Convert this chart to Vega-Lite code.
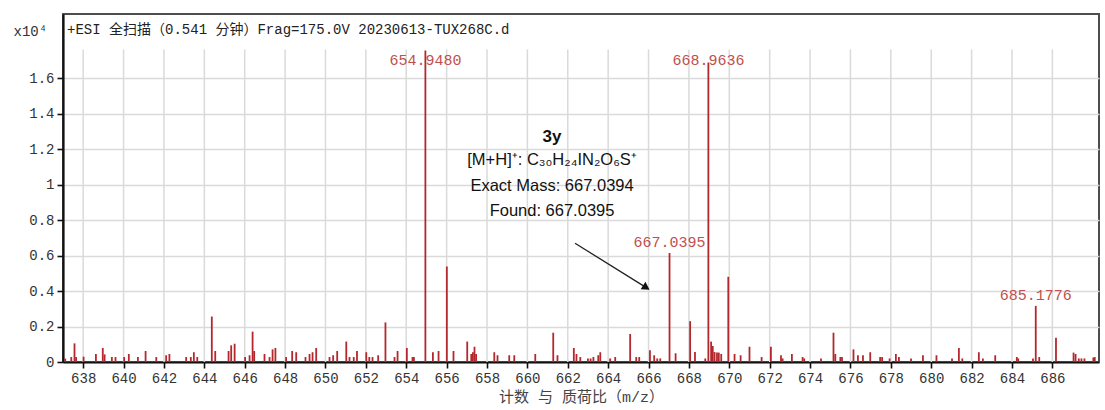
{
  "$schema": "https://vega.github.io/schema/vega-lite/v6.json",
  "width": 1036,
  "height": 348,
  "autosize": {"type": "none"},
  "padding": {"left": 63, "top": 14, "right": 6, "bottom": 48},
  "background": "white",
  "config": {"view": {"stroke": "#4d4d4d", "strokeWidth": 2}},
  "datasets": {
    "peaks": [
      {"mz": 637.11, "intensity": 0.019}, {"mz": 637.41, "intensity": 0.028}, {"mz": 637.57, "intensity": 0.105}, {"mz": 637.65, "intensity": 0.028},
      {"mz": 638.02, "intensity": 0.03}, {"mz": 638.63, "intensity": 0.045}, {"mz": 638.97, "intensity": 0.079}, {"mz": 639.06, "intensity": 0.043},
      {"mz": 639.42, "intensity": 0.028}, {"mz": 639.6, "intensity": 0.028}, {"mz": 640.03, "intensity": 0.028}, {"mz": 640.26, "intensity": 0.045},
      {"mz": 640.71, "intensity": 0.028}, {"mz": 641.09, "intensity": 0.062}, {"mz": 641.62, "intensity": 0.028}, {"mz": 642.11, "intensity": 0.038},
      {"mz": 642.27, "intensity": 0.045}, {"mz": 643.1, "intensity": 0.028}, {"mz": 643.33, "intensity": 0.028}, {"mz": 643.48, "intensity": 0.055},
      {"mz": 643.65, "intensity": 0.028}, {"mz": 644.37, "intensity": 0.256}, {"mz": 644.54, "intensity": 0.062}, {"mz": 645.2, "intensity": 0.062},
      {"mz": 645.33, "intensity": 0.094}, {"mz": 645.5, "intensity": 0.103}, {"mz": 646.02, "intensity": 0.028}, {"mz": 646.24, "intensity": 0.038},
      {"mz": 646.39, "intensity": 0.171}, {"mz": 646.47, "intensity": 0.062}, {"mz": 646.98, "intensity": 0.045}, {"mz": 647.23, "intensity": 0.028},
      {"mz": 647.38, "intensity": 0.071}, {"mz": 647.52, "intensity": 0.079}, {"mz": 648.05, "intensity": 0.028}, {"mz": 648.35, "intensity": 0.062},
      {"mz": 648.55, "intensity": 0.055}, {"mz": 649.01, "intensity": 0.028}, {"mz": 649.21, "intensity": 0.045}, {"mz": 649.36, "intensity": 0.055},
      {"mz": 649.54, "intensity": 0.079}, {"mz": 650.2, "intensity": 0.028}, {"mz": 650.38, "intensity": 0.038}, {"mz": 650.58, "intensity": 0.062},
      {"mz": 651.03, "intensity": 0.115}, {"mz": 651.19, "intensity": 0.028}, {"mz": 651.4, "intensity": 0.028}, {"mz": 651.56, "intensity": 0.062},
      {"mz": 652.02, "intensity": 0.055}, {"mz": 652.17, "intensity": 0.028}, {"mz": 652.33, "intensity": 0.028}, {"mz": 652.61, "intensity": 0.038},
      {"mz": 652.97, "intensity": 0.223}, {"mz": 653.42, "intensity": 0.028}, {"mz": 653.57, "intensity": 0.062}, {"mz": 654.03, "intensity": 0.079},
      {"mz": 654.31, "intensity": 0.028}, {"mz": 654.38, "intensity": 0.028}, {"mz": 654.948, "intensity": 1.755, "labeled": true, "tall": true},
      {"mz": 655.32, "intensity": 0.055}, {"mz": 655.6, "intensity": 0.062}, {"mz": 656.01, "intensity": 0.538}, {"mz": 656.34, "intensity": 0.062},
      {"mz": 657.02, "intensity": 0.115}, {"mz": 657.22, "intensity": 0.045}, {"mz": 657.3, "intensity": 0.055}, {"mz": 657.38, "intensity": 0.086},
      {"mz": 657.46, "intensity": 0.045}, {"mz": 658.36, "intensity": 0.055}, {"mz": 658.52, "intensity": 0.038}, {"mz": 659.1, "intensity": 0.038},
      {"mz": 659.35, "intensity": 0.038}, {"mz": 660.39, "intensity": 0.045}, {"mz": 661.28, "intensity": 0.165}, {"mz": 661.49, "intensity": 0.038},
      {"mz": 662.3, "intensity": 0.079}, {"mz": 662.43, "intensity": 0.045}, {"mz": 662.62, "intensity": 0.028}, {"mz": 663.0, "intensity": 0.02},
      {"mz": 663.13, "intensity": 0.02}, {"mz": 663.27, "intensity": 0.028}, {"mz": 663.51, "intensity": 0.038}, {"mz": 663.61, "intensity": 0.055},
      {"mz": 664.1, "intensity": 0.02}, {"mz": 664.35, "intensity": 0.028}, {"mz": 665.09, "intensity": 0.158}, {"mz": 665.39, "intensity": 0.028},
      {"mz": 665.54, "intensity": 0.028}, {"mz": 666.07, "intensity": 0.066}, {"mz": 666.28, "intensity": 0.038}, {"mz": 666.43, "intensity": 0.02},
      {"mz": 666.58, "intensity": 0.02}, {"mz": 667.0395, "intensity": 0.614, "labeled": true}, {"mz": 667.34, "intensity": 0.049},
      {"mz": 668.06, "intensity": 0.23}, {"mz": 668.3, "intensity": 0.056}, {"mz": 668.81, "intensity": 0.02},
      {"mz": 668.9636, "intensity": 1.687, "labeled": true, "tall": true},
      {"mz": 669.1, "intensity": 0.115}, {"mz": 669.18, "intensity": 0.09}, {"mz": 669.27, "intensity": 0.056}, {"mz": 669.39, "intensity": 0.053},
      {"mz": 669.48, "intensity": 0.053}, {"mz": 669.6, "intensity": 0.045}, {"mz": 669.95, "intensity": 0.48}, {"mz": 670.26, "intensity": 0.045},
      {"mz": 670.56, "intensity": 0.038}, {"mz": 671.0, "intensity": 0.086}, {"mz": 671.6, "intensity": 0.028}, {"mz": 672.06, "intensity": 0.086},
      {"mz": 672.56, "intensity": 0.038}, {"mz": 672.64, "intensity": 0.02}, {"mz": 673.1, "intensity": 0.045}, {"mz": 673.63, "intensity": 0.028},
      {"mz": 673.71, "intensity": 0.02}, {"mz": 674.54, "intensity": 0.02}, {"mz": 675.16, "intensity": 0.165}, {"mz": 675.25, "intensity": 0.045},
      {"mz": 675.5, "intensity": 0.028}, {"mz": 675.58, "intensity": 0.028}, {"mz": 676.15, "intensity": 0.071}, {"mz": 676.37, "intensity": 0.038},
      {"mz": 676.62, "intensity": 0.038}, {"mz": 676.98, "intensity": 0.055}, {"mz": 677.47, "intensity": 0.028}, {"mz": 677.57, "intensity": 0.028},
      {"mz": 677.94, "intensity": 0.02}, {"mz": 678.25, "intensity": 0.045}, {"mz": 678.4, "intensity": 0.028}, {"mz": 679.0, "intensity": 0.02},
      {"mz": 679.59, "intensity": 0.038}, {"mz": 680.26, "intensity": 0.038}, {"mz": 681.03, "intensity": 0.02}, {"mz": 681.37, "intensity": 0.079},
      {"mz": 681.54, "intensity": 0.02}, {"mz": 682.36, "intensity": 0.055}, {"mz": 682.56, "intensity": 0.02}, {"mz": 683.17, "intensity": 0.038},
      {"mz": 684.24, "intensity": 0.028}, {"mz": 684.31, "intensity": 0.02}, {"mz": 685.04, "intensity": 0.02},
      {"mz": 685.1776, "intensity": 0.316, "labeled": true}, {"mz": 685.35, "intensity": 0.028}, {"mz": 686.18, "intensity": 0.137},
      {"mz": 687.05, "intensity": 0.053}, {"mz": 687.15, "intensity": 0.045}, {"mz": 687.31, "intensity": 0.02}, {"mz": 687.44, "intensity": 0.02},
      {"mz": 687.59, "intensity": 0.02}, {"mz": 688.03, "intensity": 0.025}, {"mz": 688.1, "intensity": 0.028}
    ],
    "gridX": [
      {"g": 638}, {"g": 640}, {"g": 642}, {"g": 644}, {"g": 646}, {"g": 648}, {"g": 650}, {"g": 652}, {"g": 654},
      {"g": 656}, {"g": 658}, {"g": 660}, {"g": 662}, {"g": 664}, {"g": 666}, {"g": 668}, {"g": 670}, {"g": 672},
      {"g": 674}, {"g": 676}, {"g": 678}, {"g": 680}, {"g": 682}, {"g": 684}, {"g": 686}
    ]
  },
  "layer": [
    {
      "data": {"name": "gridX"},
      "mark": {"type": "rule", "color": "#dadada", "strokeWidth": 1.5},
      "encoding": {
        "x": {"field": "g", "type": "quantitative"},
        "y": {"datum": 0, "type": "quantitative"},
        "y2": {"datum": 1.76}
      }
    },
    {
      "data": {"name": "peaks"},
      "transform": [{"filter": "datum.labeled && !datum.tall"}],
      "mark": {"type": "text", "font": "Liberation Mono", "fontSize": 15, "color": "#c0504d", "baseline": "middle", "dy": -11},
      "encoding": {
        "x": {"field": "mz", "type": "quantitative"},
        "y": {"field": "intensity", "type": "quantitative"},
        "text": {"field": "mz", "type": "quantitative", "format": ".4f"}
      }
    },
    {
      "data": {"name": "peaks"},
      "transform": [{"filter": "datum.tall"}],
      "mark": {"type": "text", "font": "Liberation Mono", "fontSize": 15, "color": "#c0504d", "baseline": "middle"},
      "encoding": {
        "x": {"field": "mz", "type": "quantitative"},
        "y": {"datum": 1.701, "type": "quantitative"},
        "text": {"field": "mz", "type": "quantitative", "format": ".4f"}
      }
    },
    {
      "data": {"name": "peaks"},
      "mark": {"type": "rule", "color": "#b3282d", "strokeWidth": 1.8},
      "encoding": {
        "x": {
          "field": "mz", "type": "quantitative",
          "scale": {"domain": [637.0, 688.31], "nice": false, "zero": false},
          "axis": {
            "values": [638, 640, 642, 644, 646, 648, 650, 652, 654, 656, 658, 660, 662, 664, 666, 668, 670, 672, 674, 676, 678, 680, 682, 684, 686],
            "format": "d", "grid": false,
            "domainColor": "#111111", "domainWidth": 2.2,
            "tickColor": "#111111", "tickWidth": 1.6, "tickSize": 6,
            "labelFont": "Liberation Mono", "labelFontSize": 14, "labelColor": "#333333", "labelPadding": 3,
            "labelFlush": false, "labelOverlap": false,
            "title": "计数 与 质荷比（m/z）",
            "titleFont": "Liberation Mono, Noto Sans CJK SC", "titleFontSize": 15, "titleFontWeight": "normal",
            "titleColor": "#444444", "titlePadding": 4
          }
        },
        "y": {
          "field": "intensity", "type": "quantitative",
          "scale": {"domain": [0, 1.9606], "nice": false, "zero": true},
          "axis": {
            "values": [0, 0.2, 0.4, 0.6, 0.8, 1, 1.2, 1.4, 1.6],
            "format": "~g", "grid": true, "gridColor": "#dadada", "gridWidth": 1.5,
            "domainColor": "#111111", "domainWidth": 2.2,
            "tickColor": "#111111", "tickWidth": 1.6, "tickSize": 6,
            "labelFont": "Liberation Mono", "labelFontSize": 14, "labelColor": "#333333", "labelPadding": 3,
            "labelFlush": false, "labelOverlap": false,
            "title": "x10⁴", "titleAngle": 0, "titleAlign": "left", "titleBaseline": "middle",
            "titleX": -50, "titleY": 17,
            "titleFont": "Liberation Mono", "titleFontSize": 14, "titleFontWeight": "normal", "titleColor": "#333333"
          }
        },
        "y2": {"datum": 0}
      }
    },
    {
      "data": {"values": [{}]},
      "mark": {"type": "text", "font": "Liberation Mono, Noto Sans CJK SC", "fontSize": 14, "color": "#222222", "align": "left", "baseline": "middle"},
      "encoding": {
        "x": {"datum": 637.2, "type": "quantitative"},
        "y": {"datum": 1.87, "type": "quantitative"},
        "text": {"value": "+ESI 全扫描（0.541 分钟）Frag=175.0V 20230613-TUX268C.d"}
      }
    },
    {
      "data": {"values": [{}]},
      "mark": {"type": "text", "font": "Liberation Sans", "fontSize": 17, "fontWeight": "bold", "color": "#111111", "align": "center", "baseline": "middle"},
      "encoding": {
        "x": {"datum": 661.22, "type": "quantitative"},
        "y": {"datum": 1.268, "type": "quantitative"},
        "text": {"value": "3y"}
      }
    },
    {
      "data": {"values": [{}]},
      "mark": {"type": "text", "font": "Liberation Sans", "fontSize": 16.5, "color": "#111111", "align": "center", "baseline": "middle"},
      "encoding": {
        "x": {"datum": 661.22, "type": "quantitative"},
        "y": {"datum": 1.138, "type": "quantitative"},
        "text": {"value": "[M+H]⁺: C₃₀H₂₄IN₂O₆S⁺"}
      }
    },
    {
      "data": {"values": [{}]},
      "mark": {"type": "text", "font": "Liberation Sans", "fontSize": 16.5, "color": "#111111", "align": "center", "baseline": "middle"},
      "encoding": {
        "x": {"datum": 661.22, "type": "quantitative"},
        "y": {"datum": 0.992, "type": "quantitative"},
        "text": {"value": "Exact Mass: 667.0394"}
      }
    },
    {
      "data": {"values": [{}]},
      "mark": {"type": "text", "font": "Liberation Sans", "fontSize": 16.5, "color": "#111111", "align": "center", "baseline": "middle"},
      "encoding": {
        "x": {"datum": 661.22, "type": "quantitative"},
        "y": {"datum": 0.851, "type": "quantitative"},
        "text": {"value": "Found: 667.0395"}
      }
    },
    {
      "data": {"values": [{}]},
      "mark": {"type": "rule", "color": "#222222", "strokeWidth": 1.3},
      "encoding": {
        "x": {"datum": 662.36, "type": "quantitative"},
        "y": {"datum": 0.669, "type": "quantitative"},
        "x2": {"datum": 665.89},
        "y2": {"datum": 0.419}
      }
    },
    {
      "data": {"values": [{}]},
      "mark": {"type": "point", "shape": "triangle-right", "filled": true, "color": "#111111", "opacity": 1, "size": 80, "angle": 32},
      "encoding": {
        "x": {"datum": 665.89, "type": "quantitative"},
        "y": {"datum": 0.419, "type": "quantitative"}
      }
    }
  ]
}
